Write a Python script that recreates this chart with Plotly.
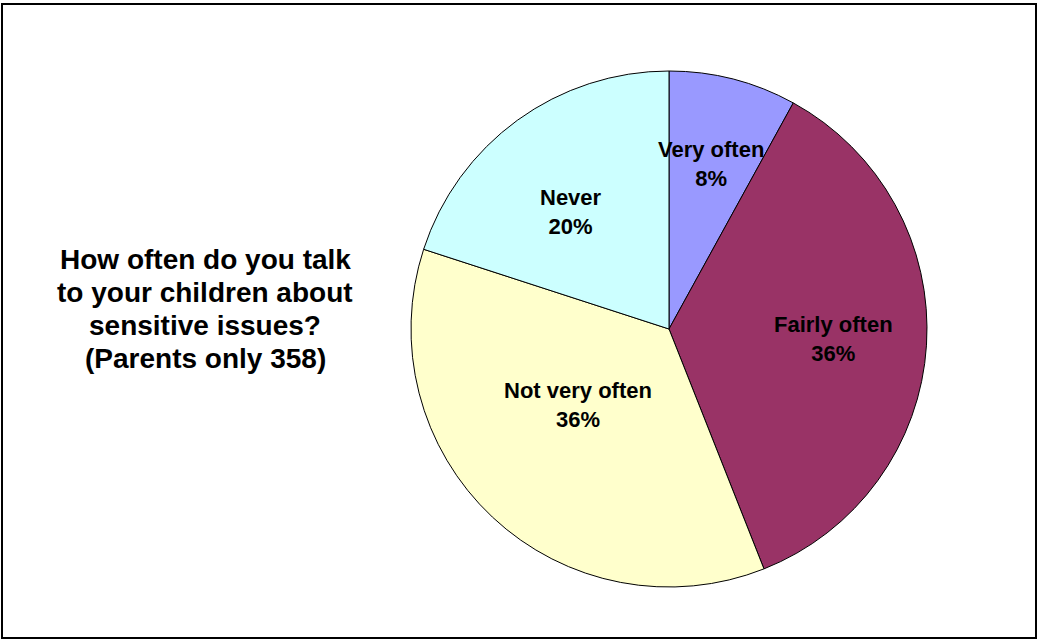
import math
import plotly.graph_objects as go

# Survey answers, clockwise from 12 o'clock
categories = ["Very often", "Fairly often", "Not very often", "Never"]
shares = [8, 36, 36, 20]
colors = ["#9999FF", "#993366", "#FFFFCC", "#CCFFFF"]
title_lines = [
    "How often do you talk",
    "to your children about",
    "sensitive issues?",
    "(Parents only 358)",
]

W, H = 1038, 642
cx, cy, R = 669, 329, 258  # pie centre and radius in pixels

fig = go.Figure()
fig.add_trace(go.Pie(
    labels=categories,
    values=shares,
    sort=False,
    direction="clockwise",
    rotation=0,
    marker=dict(colors=colors, line=dict(color="#000000", width=1)),
    textinfo="none",
    hoverinfo="label+percent",
    showlegend=False,
    domain=dict(x=[(cx - R) / W, (cx + R) / W], y=[(H - cy - R) / H, (H - cy + R) / H]),
))

# Slice labels placed along each slice's bisector
radial = [0.66, 0.64, 0.46, 0.59]
angular_shift = [0, 0, 7, -4]
total = sum(shares)
cum = 0
for name, v, rf, da in zip(categories, shares, radial, angular_shift):
    mid = (cum + v / 2) / total * 360 + da
    cum += v
    px = cx + rf * R * math.sin(math.radians(mid))
    py = cy - rf * R * math.cos(math.radians(mid))
    fig.add_annotation(
        x=px / W, y=1 - py / H, xref="paper", yref="paper",
        text=f"<b>{name}</b><br><b>{round(v / total * 100)}%</b>",
        showarrow=False, xanchor="center", yanchor="middle",
        font=dict(family="Liberation Sans, Arial", size=22, color="#000000"),
    )

# Question text on the left
for i, line in enumerate(title_lines):
    fig.add_annotation(
        x=205 / W, y=1 - (259 + i * 33.3) / H, xref="paper", yref="paper",
        text=f"<b>{line}</b>", showarrow=False, xanchor="center", yanchor="middle",
        font=dict(family="Liberation Sans, Arial", size=28, color="#000000"),
    )

# Chart frame
fig.add_shape(
    type="rect", xref="paper", yref="paper",
    x0=2 / W, x1=1036 / W, y0=(H - 638) / H, y1=(H - 4) / H,
    line=dict(color="#000000", width=2),
)

fig.update_layout(
    width=W, height=H,
    margin=dict(l=0, r=0, t=0, b=0),
    paper_bgcolor="#FFFFFF",
    plot_bgcolor="#FFFFFF",
)

fig.write_html("out.html")
